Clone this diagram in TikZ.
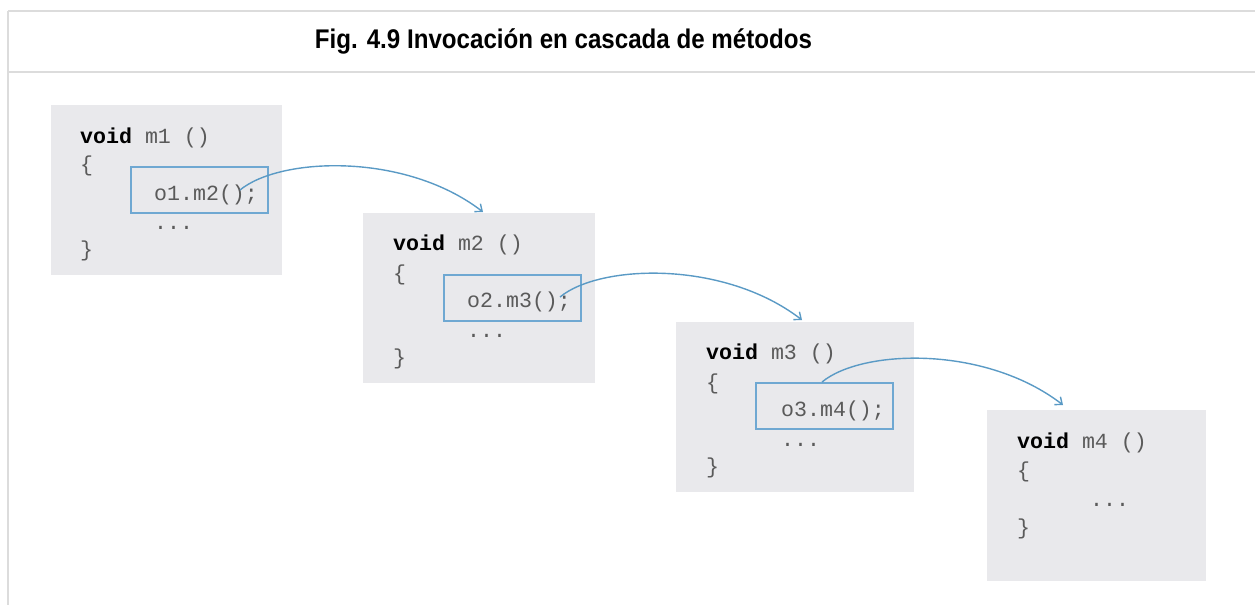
\documentclass[tikz,border=0pt]{standalone}
\usepackage{graphicx}
\usepackage{fontspec}
\setmainfont{Liberation Sans}
\setmonofont{Liberation Mono}
\usetikzlibrary{arrows.meta}
\definecolor{frameg}{HTML}{DCDCDC}
\definecolor{boxfill}{HTML}{E9E9EC}
\definecolor{callblue}{HTML}{6FA8D2}
\definecolor{arrowblue}{HTML}{5A9AC5}
\definecolor{codegray}{HTML}{5A5A5A}
\begin{document}
\begin{tikzpicture}[x=1pt,y=-1pt,
  frameline/.style={draw=frameg,line width=2pt},
  codebox/.style={fill=boxfill,draw=none,anchor=north west,inner sep=0pt,minimum height=170pt},
  callbox/.style={draw=callblue,line width=1.6pt,anchor=north west,inner sep=0pt,minimum width=137pt,minimum height=46pt},
  code/.style={anchor=base west,inner sep=0pt,font=\ttfamily\fontsize{21.6}{24}\selectfont,text=codegray},
  callarrow/.style={draw=arrowblue,line width=1.4pt,-{Straight Barb[length=6pt,width=10pt]}}]
\useasboundingbox (0,0) rectangle (1255,605);
% frame
\coordinate (ftl) at (8,11);
\coordinate (ftr) at (1255,11);
\coordinate (fml) at (8,71.5);
\coordinate (fmr) at (1255,71.5);
\coordinate (fbl) at (8,605);
\draw[frameline] (ftl) -- (ftr);
\draw[frameline] (fml) -- (fmr);
\draw[frameline] (ftl) -- (fbl);
\node[anchor=base,inner sep=0pt,font=\bfseries\fontsize{27}{30}\selectfont] (title) at (563.5,48)
  {\resizebox{497pt}{\height}{Fig. 4.9 Invocación en cascada de métodos}};
% box 1
\begin{scope}[shift={(51,105)}]
  \node[codebox,minimum width=231pt] (b1) at (0,0) {};
  \node[callbox] (c1) at (79,61) {};
  \node[code] (v1) at (29,38) {{\color{black}\bfseries void} m1 ()};
  \node[code] (o1) at (29,66) {\{};
  \node[code] (t1) at (103,95) {o1.m2();};
  \node[code] (d1) at (103,124) {...};
  \node[code] (k1) at (29,151) {\}};
  \coordinate (s1) at (189,85);
\end{scope}
% box 2
\begin{scope}[shift={(363,213)}]
  \node[codebox,minimum width=232pt] (b2) at (0,0) {};
  \node[callbox] (c2) at (80,61) {};
  \node[code] (v2) at (30,37) {{\color{black}\bfseries void} m2 ()};
  \node[code] (o2) at (30,67) {\{};
  \node[code] (t2) at (104,94) {o2.m3();};
  \node[code] (d2) at (104,124) {...};
  \node[code] (k2) at (30,151) {\}};
  \coordinate (e1) at (120,-1);
  \coordinate (s2) at (197,84);
\end{scope}
% box 3
\begin{scope}[shift={(676,322)}]
  \node[codebox,minimum width=238pt] (b3) at (0,0) {};
  \node[callbox] (c3) at (79,60) {};
  \node[code] (v3) at (30,37) {{\color{black}\bfseries void} m3 ()};
  \node[code] (o3) at (30,67) {\{};
  \node[code] (t3) at (105,94) {o3.m4();};
  \node[code] (d3) at (105,124) {...};
  \node[code] (k3) at (30,151) {\}};
  \coordinate (e2) at (126,-2);
  \coordinate (s3) at (146,60);
\end{scope}
% box 4
\begin{scope}[shift={(987,410)}]
  \node[codebox,minimum width=219pt,minimum height=171pt] (b4) at (0,0) {};
  \node[code] (v4) at (30,38) {{\color{black}\bfseries void} m4 ()};
  \node[code] (o4) at (30,67) {\{};
  \node[code] (d4) at (103,96) {...};
  \node[code] (k4) at (30,124) {\}};
  \coordinate (e3) at (76,-5);
\end{scope}
% arrows
\draw[callarrow] (s1) .. controls +(40,-33) and +(-78,-60) .. (e1);
\draw[callarrow] (s2) .. controls +(40,-33) and +(-78,-60) .. (e2);
\draw[callarrow] (s3) .. controls +(40,-33) and +(-78,-60) .. (e3);
\end{tikzpicture}
\end{document}
